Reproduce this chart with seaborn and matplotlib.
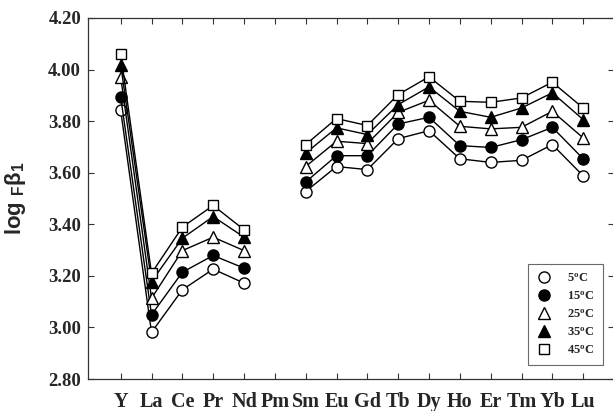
import numpy as np
import pandas as pd
import matplotlib
matplotlib.use("Agg")
import matplotlib.pyplot as plt
from matplotlib.lines import Line2D
import seaborn as sns

categories = ["Y", "La", "Ce", "Pr", "Nd", "Pm", "Sm", "Eu", "Gd", "Tb", "Dy",
              "Ho", "Er", "Tm", "Yb", "Lu"]
segments = [0, 0, 0, 0, 0, -1, 1, 1, 1, 1, 1, 1, 1, 1, 1, 1]

t5 = [3.842, 2.981, 3.146, 3.226, 3.172, np.nan, 3.527, 3.624, 3.612, 3.732,
      3.763, 3.654, 3.640, 3.648, 3.709, 3.588]
t15 = [3.894, 3.049, 3.214, 3.279, 3.230, np.nan, 3.564, 3.666, 3.666, 3.789,
       3.815, 3.705, 3.698, 3.728, 3.776, 3.654]
t25 = [3.972, 3.113, 3.298, 3.350, 3.298, np.nan, 3.624, 3.722, 3.713, 3.834,
       3.881, 3.780, 3.770, 3.776, 3.838, 3.735]
t35 = [4.019, 3.178, 3.346, 3.430, 3.350, np.nan, 3.676, 3.774, 3.748, 3.864,
       3.933, 3.838, 3.815, 3.851, 3.910, 3.806]
t45 = [4.061, 3.210, 3.389, 3.473, 3.379, np.nan, 3.709, 3.810, 3.783, 3.903,
       3.972, 3.877, 3.873, 3.890, 3.951, 3.851]

series_labels = ["5$^{\\rm o}$C", "15$^{\\rm o}$C", "25$^{\\rm o}$C",
                 "35$^{\\rm o}$C", "45$^{\\rm o}$C"]
series_values = [t5, t15, t25, t35, t45]
styles = [("o", "white"), ("o", "black"), ("^", "white"), ("^", "black"),
          ("s", "white")]

yticks = [2.80, 3.00, 3.20, 3.40, 3.60, 3.80, 4.00, 4.20]

sns.set_style("ticks")
plt.rcParams["font.family"] = ["Liberation Serif", "DejaVu Serif"]
plt.rcParams["mathtext.fontset"] = "custom"
plt.rcParams["mathtext.rm"] = "Liberation Serif:bold"
plt.rcParams["mathtext.it"] = "Liberation Serif:bold"
plt.rcParams["mathtext.sf"] = "Liberation Sans:bold"

fig = plt.figure(figsize=(6.13, 4.11), dpi=100)
ax = fig.add_axes([88 / 613, 1 - 379 / 411, (614 - 88) / 613, (379 - 18) / 411])

pos = np.arange(len(categories))
for vals, (mk, fc), lab in zip(series_values, styles, series_labels):
    df = pd.DataFrame({"pos": pos, "val": vals, "seg": segments}).dropna()
    sns.lineplot(data=df, x="pos", y="val", units="seg", estimator=None,
                 color="black", lw=1.0, marker=mk, markersize=8 if mk != "s" else 7.5,
                 markerfacecolor=fc, markeredgecolor="black",
                 markeredgewidth=1.0, ax=ax, legend=False)

ax.set_xlim(-1.06, 16.0)
ax.set_ylim(2.8, 4.2)
ax.set_xticks(pos)
ax.set_xticklabels(categories, fontsize=14.5, fontweight="bold")
ax.set_yticks(yticks)
ax.set_yticklabels([f"{v:.2f}" for v in yticks], fontsize=13.5, fontweight="bold")
ax.tick_params(direction="in", top=True, right=True, length=4, width=0.8,
               color="#333333", pad=5)
ax.tick_params(axis="x", pad=9)
for s in ax.spines.values():
    s.set_linewidth(0.9)
    s.set_color("#333333")
ax.set_xlabel("")
ax.set_ylabel("$\\mathsf{log}\\ _{\\mathsf{F}}\\mathsf{\\beta}_{\\mathsf{1}}$",
              fontsize=16)
ax.yaxis.set_label_coords(-0.114, 0.5)

handles = [Line2D([], [], ls="none", marker=mk, markersize=8 if mk != "s" else 7.5,
                  markerfacecolor=fc, markeredgecolor="black", markeredgewidth=1.0)
           for mk, fc in styles]
leg = ax.legend(handles, series_labels, loc="lower right",
                bbox_to_anchor=(0.979, 0.039), borderaxespad=0,
                prop={"family": "Liberation Serif", "weight": "bold", "size": 9},
                frameon=True, fancybox=False, edgecolor="#444444",
                handlelength=1.2, handletextpad=1.3, labelspacing=0.45,
                borderpad=0.65)
leg.get_frame().set_linewidth(0.8)

fig.savefig("out.png", dpi=100)
